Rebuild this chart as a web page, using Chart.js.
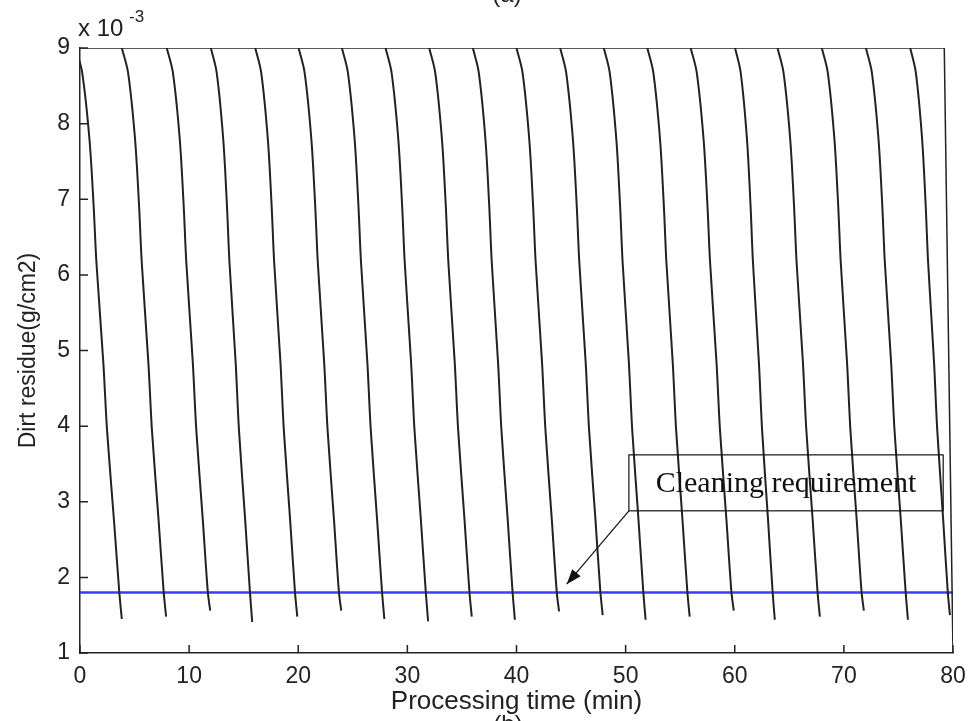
<!DOCTYPE html>
<html>
<head>
<meta charset="utf-8">
<script src="https://cdn.jsdelivr.net/npm/chart.js@4.4.1/dist/chart.umd.min.js"></script>
<style>
  html, body { margin: 0; padding: 0; background: #fff; }
  #wrap { width: 969px; height: 721px; position: relative; }
</style>
</head>
<body>
<div id="wrap"><canvas id="dirtChart"></canvas></div>
<script>
// x where each curve leaves the 9e-3 level, and where it stops
const curveStartX = [-0.4, 3.83, 7.95, 11.99, 16.06, 20.03, 24.0, 28.0, 32.0, 36.0,
                     40.0, 44.0, 48.0, 51.99, 55.96, 60.03, 63.92, 67.98, 72.02, 76.08];
const curveEndX   = [3.83, 7.89, 11.93, 15.78, 19.91, 23.94, 27.89, 31.9, 35.9, 39.85,
                     43.9, 47.9, 51.83, 55.87, 59.91, 63.67, 67.8, 71.83, 75.87, 79.72];
const curveEndY   = [1.45, 1.48, 1.56, 1.41, 1.48, 1.56, 1.45, 1.42, 1.48, 1.44,
                     1.55, 1.50, 1.44, 1.48, 1.56, 1.44, 1.48, 1.56, 1.44, 1.50];
// shape of one cleaning curve: residue level and share of its time span
const profileY    = [9, 8.68, 7.79, 6.91, 6.17, 4.84, 3.95, 2.76, 1.81];
const profileFrac = [0, 0.14, 0.30, 0.39, 0.45, 0.60, 0.68, 0.83, 0.945];
const topLine     = [{ x: 0, y: 9 }, { x: 79.2, y: 9 }, { x: 80, y: 1 }];
const requirement = 1.8;
const xTicks = [0, 10, 20, 30, 40, 50, 60, 70, 80];
const yTicks = [1, 2, 3, 4, 5, 6, 7, 8, 9];

const FONT = '"Liberation Sans", Arial, sans-serif';

const datasets = curveStartX.map((x0, k) => {
    const span = curveEndX[k] - x0;
    const pts = profileY.map((y, i) => ({ x: x0 + profileFrac[i] * span, y }));
    pts.push({ x: curveEndX[k], y: curveEndY[k] });
    return { data: pts, showLine: true, borderColor: '#222', borderWidth: 2, pointRadius: 0, tension: 0.3 };
});
datasets.push({ data: topLine, showLine: true, borderColor: '#222', borderWidth: 1.5, pointRadius: 0 });
datasets.push({
    data: [{ x: 0, y: requirement }, { x: 80, y: requirement }],
    showLine: true, borderColor: '#3b3bff', borderWidth: 2.5, pointRadius: 0
});

// inward tick marks, exponent label, annotation box + arrow, cut-off panel captions
const extras = {
    id: 'extras',
    afterDraw(chart) {
        const { ctx, chartArea: a, scales: { x, y } } = chart;
        ctx.save();
        ctx.strokeStyle = '#222';
        ctx.lineWidth = 1.5;
        ctx.beginPath();
        yTicks.forEach(v => { const py = y.getPixelForValue(v); ctx.moveTo(a.left, py); ctx.lineTo(a.left + 8, py); });
        xTicks.forEach(v => { const px = x.getPixelForValue(v); ctx.moveTo(px, a.bottom); ctx.lineTo(px, a.bottom - 8); });
        ctx.stroke();

        ctx.fillStyle = '#222';
        ctx.textBaseline = 'alphabetic';
        ctx.textAlign = 'left';
        ctx.font = '24px ' + FONT;
        ctx.fillText('x 10', 78, 36);
        ctx.font = '17px ' + FONT;
        ctx.fillText('-3', 129, 22);

        ctx.textAlign = 'center';
        ctx.font = '24px ' + FONT;
        ctx.fillText('(a)', 507, 2);
        ctx.textBaseline = 'top';
        ctx.fillText('(b)', 508, 713);

        // annotation
        const bx0 = x.getPixelForValue(50.3), bx1 = x.getPixelForValue(79.1);
        const by0 = y.getPixelForValue(3.62), by1 = y.getPixelForValue(2.88);
        ctx.strokeStyle = '#111';
        ctx.lineWidth = 1.2;
        ctx.strokeRect(bx0, by0, bx1 - bx0, by1 - by0);
        ctx.font = '30px "Liberation Serif", "Times New Roman", serif';
        ctx.textBaseline = 'middle';
        ctx.fillStyle = '#111';
        ctx.fillText('Cleaning requirement', (bx0 + bx1) / 2, (by0 + by1) / 2 + 1);

        const ax = x.getPixelForValue(44.6), ay = y.getPixelForValue(1.91);
        ctx.beginPath();
        ctx.moveTo(bx0, by1);
        ctx.lineTo(ax, ay);
        ctx.stroke();
        const ang = Math.atan2(ay - by1, ax - bx0);
        ctx.beginPath();
        ctx.moveTo(ax, ay);
        ctx.lineTo(ax - 16 * Math.cos(ang - 0.35), ay - 16 * Math.sin(ang - 0.35));
        ctx.lineTo(ax - 16 * Math.cos(ang + 0.35), ay - 16 * Math.sin(ang + 0.35));
        ctx.closePath();
        ctx.fill();
        ctx.restore();
    }
};

new Chart(document.getElementById('dirtChart'), {
    type: 'scatter',
    data: { datasets },
    plugins: [extras],
    options: {
        responsive: true,
        maintainAspectRatio: false,
        animation: false,
        layout: { padding: { top: 48, right: 16, left: 0, bottom: 0 } },
        plugins: { legend: { display: false }, tooltip: { enabled: false } },
        scales: {
            x: {
                type: 'linear', min: 0, max: 80,
                afterFit: s => { s.height = 68; s.paddingLeft = 0; s.paddingRight = 0; },
                afterBuildTicks: s => { s.ticks = xTicks.map(v => ({ value: v })); },
                grid: { display: false, drawTicks: false },
                border: { display: true, color: '#222', width: 1.5 },
                ticks: { padding: 10, color: '#222', font: { family: FONT, size: 23 } },
                title: { display: true, text: 'Processing time (min)', color: '#222', padding: { top: 0, bottom: 4 },
                         font: { family: FONT, size: 26 } }
            },
            y: {
                type: 'linear', min: 1, max: 9,
                afterFit: s => { s.width = 80; s.paddingTop = 0; s.paddingBottom = 0; },
                afterBuildTicks: s => { s.ticks = yTicks.map(v => ({ value: v })); },
                grid: { display: false, drawTicks: false },
                border: { display: true, color: '#222', width: 1.5 },
                ticks: { padding: 10, color: '#222', font: { family: FONT, size: 23 } },
                title: { display: true, text: 'Dirt residue(g/cm2)', color: '#222', padding: { top: 15, bottom: 0 },
                         font: { family: FONT, size: 23 } }
            }
        }
    }
});
</script>
</body>
</html>
